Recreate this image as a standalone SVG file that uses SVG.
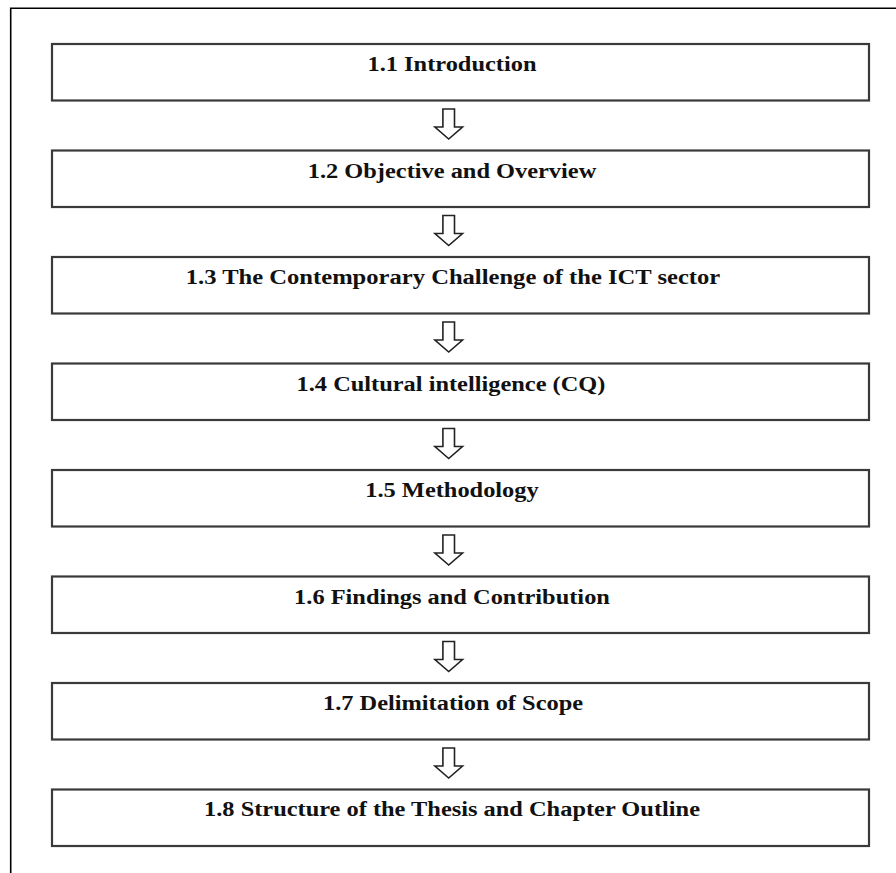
<svg xmlns="http://www.w3.org/2000/svg" width="896" height="873" viewBox="0 0 896 873">
  <style>
    .frame { stroke: #000; stroke-width: 1.6; fill: none; }
    .box { fill: #fff; stroke: #3a3a3a; stroke-width: 2.2; }
    .label { font-family: "Liberation Serif", "Times New Roman", serif; font-weight: bold; font-size: 20px; fill: #111; text-anchor: middle; }
    .arrow { fill: #fff; stroke: #222; stroke-width: 1.6; stroke-linejoin: miter; }
  </style>
  <defs>
    <!-- hollow block arrow pointing down, origin at shaft top centre -->
    <polygon id="downArrow" class="arrow" points="-5.8,0 5.8,0 5.8,18 13.8,18 0,30 -13.8,18 -5.8,18"/>
  </defs>

  <rect width="896" height="873" fill="#fff"/>

  <!-- page frame (top and left edges) -->
  <path class="frame" d="M10.7,873 V8.2 H896"/>

  <g id="connectors">
    <use href="#downArrow" x="448.7" y="109"/>
    <use href="#downArrow" x="448.7" y="215.5"/>
    <use href="#downArrow" x="448.7" y="322"/>
    <use href="#downArrow" x="448.7" y="428.5"/>
    <use href="#downArrow" x="448.7" y="535"/>
    <use href="#downArrow" x="448.7" y="641.5"/>
    <use href="#downArrow" x="448.7" y="748"/>
  </g>

  <g id="n1">
    <rect class="box" x="52" y="44" width="817" height="56.5"/>
    <text class="label" transform="translate(452,71) scale(1.22,1)">1.1 Introduction</text>
  </g>
  <g id="n2">
    <rect class="box" x="52" y="150.5" width="817" height="56.5"/>
    <text class="label" transform="translate(452,177.5) scale(1.22,1)">1.2 Objective and Overview</text>
  </g>
  <g id="n3">
    <rect class="box" x="52" y="257" width="817" height="56.5"/>
    <text class="label" transform="translate(453,284) scale(1.23,1)">1.3 The Contemporary Challenge of the ICT sector</text>
  </g>
  <g id="n4">
    <rect class="box" x="52" y="363.5" width="817" height="56.5"/>
    <text class="label" transform="translate(451,390.5) scale(1.22,1)">1.4 Cultural intelligence (CQ)</text>
  </g>
  <g id="n5">
    <rect class="box" x="52" y="470" width="817" height="56.5"/>
    <text class="label" transform="translate(452,497) scale(1.22,1)">1.5 Methodology</text>
  </g>
  <g id="n6">
    <rect class="box" x="52" y="576.5" width="817" height="56.5"/>
    <text class="label" transform="translate(452,603.5) scale(1.22,1)">1.6 Findings and Contribution</text>
  </g>
  <g id="n7">
    <rect class="box" x="52" y="683" width="817" height="56.5"/>
    <text class="label" transform="translate(453,710) scale(1.22,1)">1.7 Delimitation of Scope</text>
  </g>
  <g id="n8">
    <rect class="box" x="52" y="789.5" width="817" height="56.5"/>
    <text class="label" transform="translate(452,816) scale(1.22,1)">1.8 Structure of the Thesis and Chapter Outline</text>
  </g>
</svg>
